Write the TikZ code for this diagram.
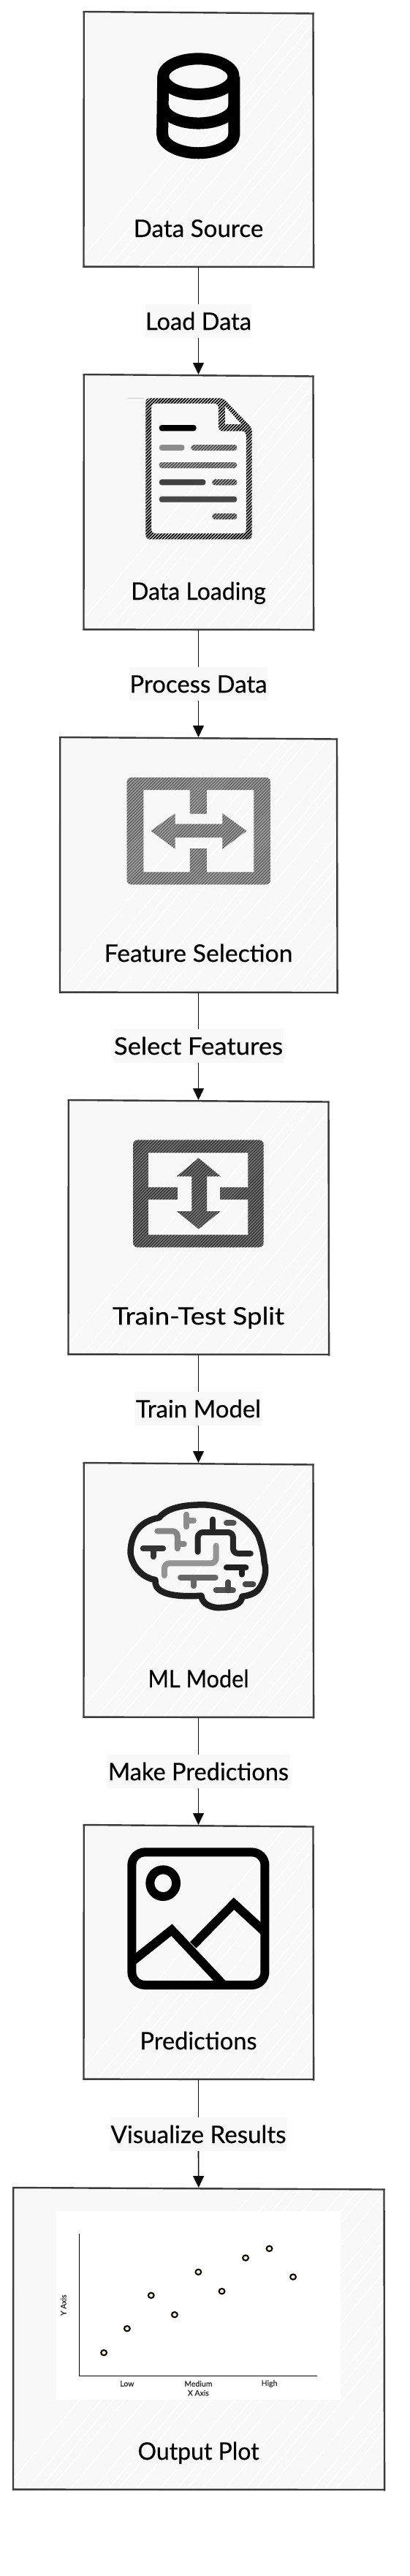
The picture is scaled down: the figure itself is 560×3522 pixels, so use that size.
\documentclass[tikz,border=0pt]{standalone}
\usepackage{fontspec}
\setmainfont{Lato}
\newfontfamily\lblfont{Lato}[FakeBold=0.35]
\usetikzlibrary{arrows.meta,patterns.meta}
\definecolor{boxfill}{HTML}{F8F8F8}
\definecolor{boxline}{HTML}{3A3A3A}
\newcommand{\fitw}[2]{\resizebox{#1pt}{\height}{#2}}
\tikzset{
  x=1pt,y=-1pt,
  boxnode/.style={inner sep=0pt,outer sep=0pt,fill=boxfill,draw=none},
  boxtext/.style={inner sep=0pt,anchor=base,font=\lblfont\fontsize{33}{36}\selectfont,text=black},
  edgelabel/.style={inner sep=0pt,outer sep=0pt,anchor=north,fill=boxfill,text height=35pt,text depth=11pt,font=\lblfont\fontsize{33}{36}\selectfont,text=black},
  conn/.style={draw=black!95,line width=1.6pt},
  arr/.style={conn,-{Triangle[length=16pt,width=15pt]},shorten >=2pt},
  outline/.style={draw=boxline,line width=2.4pt},
  hach/.style={pattern={Lines[angle=45,distance=#1,line width=1.8pt]}},
  zoomA/.style={shift={(0,#1)},xscale=1/2.8,yscale=1/2.8},
  zoomB/.style={shift={(0,#1)},xscale=1/2.8,yscale=1/3},
  smalltext/.style={inner sep=0pt,font=\lblfont\fontsize{10.5}{12}\selectfont,text=black!85},
  dotmark/.style={draw=black,line width=2pt,fill=yellow!15!orange!15!white},
  bk/.style={line width=12pt,draw=black,line join=miter},
  squig/.style={line width=8pt,line cap=round,line join=round,rounded corners=7pt},
}
\newcommand{\sketchbox}[5]{%
  \pgfmathsetmacro{\bw}{#4-#2}\pgfmathsetmacro{\bh}{#5-#3}
  \node[boxnode,minimum width=\bw pt,minimum height=\bh pt] (#1) at ({(#2+#4)/2},{(#3+#5)/2}) {};
  \begin{scope}
    \clip (#2,#3) rectangle (#4,#5);
    \foreach \o in {0,23,...,760}{
      \pgfmathsetmacro{\oo}{#2+\o-12+7*sin(\o*3.7)}
      \pgfmathsetmacro{\lw}{0.9+0.6*abs(cos(\o*5.3))}
      \draw[white,line width=\lw pt] (\oo,#5) -- (\oo+360,#5-430);
    }
  \end{scope}
  \draw[outline] (#2-1,#3-2) -- (#4+1,#3+.5);
  \draw[outline] (#4,#3-.5) -- (#4+.6,#5+1.5);
  \draw[outline] (#4+1.5,#5) -- (#2-1,#5-.4);
  \draw[outline] (#2,#5+.6) -- (#2+.3,#3-1);
}
\begin{document}
\begin{tikzpicture}
\useasboundingbox (0,0) rectangle (560,3522);
\fill[white] (0,0) rectangle (560,3522);

% boxes
\sketchbox{b1}{114.5}{18}{428.5}{365}
\sketchbox{b2}{114.5}{514}{428.5}{861}
\sketchbox{b3}{82}{1010}{461}{1357}
\sketchbox{b4}{93.5}{1506}{449.5}{1852}
\sketchbox{b5}{114.5}{2002}{428.5}{2348}
\sketchbox{b6}{114.5}{2497}{428.5}{2843}
\sketchbox{b7}{18}{2993}{525.5}{3404}

% box titles
\node[boxtext] (t1) at (271.5,324) {\fitw{177.5}{Data Source}};
\node[boxtext] (t2) at (271.5,820) {\fitw{184.6}{Data Loading}};
\node[boxtext] (t3) at (271.5,1315) {\fitw{258}{Feature Selection}};
\node[boxtext] (t4) at (271.5,1811) {\fitw{235}{Train-Test Split}};
\node[boxtext] (t5) at (271.5,2307) {\fitw{138}{ML Model}};
\node[boxtext] (t6) at (271.5,2802) {\fitw{160}{Predictions}};
\node[boxtext] (t7) at (271.5,3363) {\fitw{166}{Output Plot}};

% edge labels
\node[edgelabel,minimum width=145pt] (l1) at (271.5,416) {\fitw{145}{Load Data}};
\node[edgelabel,minimum width=189pt] (l2) at (271.5,912) {\fitw{188}{Process Data}};
\node[edgelabel,minimum width=233pt] (l3) at (271.5,1407) {\fitw{231}{Select Features}};
\node[edgelabel,minimum width=173pt] (l4) at (271.5,1903) {\fitw{171}{Train Model}};
\node[edgelabel,minimum width=249pt] (l5) at (271.5,2399) {\fitw{247}{Make Predictions}};
\node[edgelabel,minimum width=243pt] (l6) at (271.5,2895) {\fitw{240}{Visualize Results}};

% connectors
\draw[conn] (b1.south) -- (l1.north);
\draw[arr] (l1.south) -- (b2.north);
\draw[conn] (b2.south) -- (l2.north);
\draw[arr] (l2.south) -- (b3.north);
\draw[conn] (b3.south) -- (l3.north);
\draw[arr] (l3.south) -- (b4.north);
\draw[conn] (b4.south) -- (l4.north);
\draw[arr] (l4.south) -- (b5.north);
\draw[conn] (b5.south) -- (l5.north);
\draw[arr] (l5.south) -- (b6.north);
\draw[conn] (b6.south) -- (l6.north);
\draw[arr] (l6.south) -- (b7.north);

% database icon
\begin{scope}[zoomA=0]
  \draw[black,line width=16pt,line join=round] (760,293) ellipse [x radius=135pt,y radius=68pt];
  \draw[black,line width=16pt] (625,293) -- (622,514) .. controls (622,554) and (686,586) .. (760,586) .. controls (834,586) and (897,554) .. (897,514) -- (897,293);
  \draw[black,line width=16pt] (625,405) .. controls (625,442) and (686,472) .. (760,472) .. controls (834,472) and (897,442) .. (897,405);
\end{scope}

% document icon
\begin{scope}[zoomB=500]
  \draw[black!20,line width=1pt] (488,132) -- (553,132);
  \begin{scope}[every path/.append style={even odd rule}]
    \fill[hach=3pt,pattern color=black]
      [rounded corners=5pt] (558,133) -- (855,133) -- (965,255) -- (965,712) -- (558,712) -- cycle
      (580,155) -- (837,155) -- (837,268) -- (943,268) -- (943,688) -- (580,688) -- cycle
      [rounded corners=0pt] (862,165) -- (925,240) -- (862,240) -- cycle;
  \end{scope}
  \fill[black,rounded corners=3.5pt] (610,243) rectangle (752,268);
  \begin{scope}[rounded corners=3.5pt]
    \fill[black!45] (610,324) rectangle (707,348);
    \fill[black!25] (732,324) rectangle (908,348);
    \fill[hach=3pt,pattern color=black!70] (732,324) rectangle (908,348);
    \fill[black!25] (610,396) rectangle (908,420);
    \fill[hach=3pt,pattern color=black!70] (610,396) rectangle (908,420);
    \fill[black!75] (610,466) rectangle (788,490);
    \fill[black!25] (813,466) rectangle (908,490);
    \fill[hach=3pt,pattern color=black!80] (813,466) rectangle (908,490);
    \fill[black!72] (610,536) rectangle (908,560);
    \fill[black!25] (813,606) rectangle (908,630);
    \fill[hach=3pt,pattern color=black!80] (813,606) rectangle (908,630);
  \end{scope}
\end{scope}

% feature selection icon
\begin{scope}[zoomB=1000]
  \def\fframe{[rounded corners=6pt] (486,189) rectangle (1036,628) [rounded corners=0pt] (550,240) -- (728,240) -- (728,338) -- (792,338) -- (792,240) -- (973,240) -- (973,577) -- (792,577) -- (792,480) -- (728,480) -- (728,577) -- (550,577) -- cycle}
  \def\farrow{(578,408) -- (671,336) -- (671,380) -- (852,380) -- (852,336) -- (945,408) -- (852,482) -- (852,435) -- (671,435) -- (671,482) -- cycle}
  \fill[black!38,even odd rule] \fframe;
  \fill[even odd rule,pattern={Lines[angle=45,distance=3pt,line width=1pt]},pattern color=black!68] \fframe;
  \fill[black!38] \farrow;
  \fill[pattern={Lines[angle=45,distance=3pt,line width=1pt]},pattern color=black!68] \farrow;
\end{scope}

% train-test split icon
\begin{scope}[zoomB=1500]
  \def\tframe{[rounded corners=6pt] (510,176) rectangle (1010,616) [rounded corners=0pt] (568,228) -- (950,228) -- (950,370) -- (843,370) -- (843,420) -- (950,420) -- (950,565) -- (568,565) -- (568,420) -- (680,420) -- (680,370) -- (568,370) -- cycle}
  \def\tarrow{(761,250) -- (845,325) -- (793,325) -- (793,468) -- (845,468) -- (761,541) -- (677,468) -- (735,468) -- (735,325) -- (677,325) -- cycle}
  \fill[black!55,even odd rule] \tframe;
  \fill[even odd rule,pattern={Lines[angle=45,distance=3pt,line width=1pt]},pattern color=black!85] \tframe;
  \fill[black!55] \tarrow;
  \fill[pattern={Lines[angle=45,distance=3pt,line width=1pt]},pattern color=black!85] \tarrow;
\end{scope}

% brain icon
\begin{scope}[zoomB=2000]
  \draw[black!88,line width=8.5pt,line join=round]
    (610,225) .. controls (640,185) and (700,172) .. (780,172)
    .. controls (880,175) and (960,235) .. (990,300)
    .. controls (1005,345) and (1010,370) .. (1013,410)
    .. controls (1022,440) and (1018,480) .. (990,520)
    .. controls (975,538) and (950,545) .. (928,548)
    .. controls (925,575) and (905,595) .. (830,594)
    .. controls (795,590) and (772,570) .. (772,545)
    .. controls (720,548) and (660,548) .. (625,530)
    .. controls (600,518) and (593,500) .. (595,480)
    .. controls (540,470) and (505,420) .. (500,370)
    .. controls (500,300) and (530,240) .. (610,225) -- cycle;
  \draw[squig,black!85] (758,365) -- (758,285) -- (893,285) -- (893,372) -- (960,372);
  \draw[squig,black!85] (815,232) -- (815,285);
  \draw[squig,black!80] (548,352) -- (625,352);
  \draw[squig,black!80] (587,352) -- (587,385);
  \draw[squig,black!48] (603,280) -- (680,280) -- (680,352);
  \draw[squig,black!48] (680,333) -- (705,333);
  \draw[squig,black!45] (715,212) -- (715,262);
  \draw[squig,black!45] (715,237) -- (742,237);
  \draw[squig,black!68] (868,247) -- (895,247);
  \draw[squig,black!42] (828,340) -- (828,412) -- (630,412) -- (630,462);
  \draw[squig,black!60] (692,470) -- (825,470);
  \draw[squig,black!60] (742,470) -- (742,505);
  \draw[squig,black!88] (868,430) -- (942,430);
  \draw[squig,black!88] (926,430) -- (926,458);
  \draw[squig,black!68] (828,523) -- (893,523);
  \draw[squig,black!72] (875,490) -- (875,523);
  \draw[squig,black!72] (940,498) -- (970,498);
\end{scope}

% image icon
\begin{scope}[zoomB=2500]
  \draw[bk,rounded corners=18pt] (505,97) rectangle (1015,642);
  \draw[bk] (625,224) ellipse [x radius=50pt,y radius=55pt];
  \draw[bk] (507,545) -- (658,416) -- (855,640);
  \draw[bk] (740,478) -- (896,308) -- (1015,425);
\end{scope}

% plot
\begin{scope}[zoomB=3000]
  \fill[white] (217,68) rectangle (1305,842);
  \draw[black,line width=1.2pt] (304,162) -- (304,746) -- (1214,746);
  \foreach \px/\py in {398/650,487/551,579/415,669/494,760/319,850/398,941/261,1032/223,1123/339}
    \fill[dotmark] (\px,\py) ellipse [x radius=11pt,y radius=11pt];
  \node[smalltext] (lowl) at (487,777) {Low};
  \node[smalltext] (medl) at (760,777) {Medium};
  \node[smalltext] (higl) at (1032,777) {High};
  \node[smalltext] (xaxl) at (760,815) {X Axis};
  \node[smalltext,rotate=90] (yaxl) at (243,455) {Y Axis};
\end{scope}
\end{tikzpicture}
\end{document}
